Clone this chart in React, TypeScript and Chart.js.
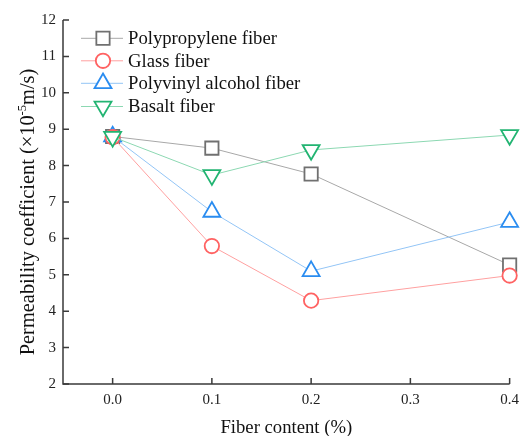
import React, { useEffect, useRef } from 'react';
import { Chart, registerables } from 'chart.js';
import { drawPoint } from 'chart.js/helpers';

Chart.register(...registerables);

// ---- Data ----
const fiberContent = [0, 0.1, 0.2, 0.4];
const xTicks = [0, 0.1, 0.2, 0.3, 0.4];
const yTicks = [2, 3, 4, 5, 6, 7, 8, 9, 10, 11, 12];

const seriesNames = ['Polypropylene fiber', 'Glass fiber', 'Polyvinyl alcohol fiber', 'Basalt fiber'];
const polypropylene = [8.8, 8.48, 7.77, 5.27];
const glass = [8.78, 5.79, 4.29, 4.98];
const pva = [8.8, 6.73, 5.1, 6.45];
const basalt = [8.79, 7.74, 8.43, 8.84];

const xTitle = 'Fiber content (%)';
const yTitleParts = ['Permeability coefficient (×10', '-5', 'm/s)'];

// ---- Styles ----
const FONT = '"Liberation Serif", "Times New Roman", serif';
const styles = [
  { marker: '#707070', line: '#a8a8a8', pointStyle: 'rect', radius: 9.4, rotation: 0 },
  { marker: '#ff6262', line: '#ffa0a0', pointStyle: 'circle', radius: 7.2, rotation: 0 },
  { marker: '#2a8cf0', line: '#93c5f6', pointStyle: 'triangle', radius: 9.8, rotation: 0 },
  { marker: '#22b472', line: '#8cd8b2', pointStyle: 'triangle', radius: 9.8, rotation: 180 },
];
const seriesValues = [polypropylene, glass, pva, basalt];
const drawOrder = [3, 1, 2, 0];

const axesPlugin = {
  id: 'inwardAxes',
  beforeDatasetsDraw(chart: any) {
    const { ctx, chartArea } = chart;
    const xs = chart.scales.x;
    const ys = chart.scales.y;
    ctx.save();
    ctx.strokeStyle = '#3a3a3a';
    ctx.lineWidth = 1.5;
    ctx.beginPath();
    ctx.moveTo(chartArea.left, chartArea.top);
    ctx.lineTo(chartArea.left, chartArea.bottom);
    ctx.lineTo(chartArea.right, chartArea.bottom);
    ctx.stroke();
    ctx.beginPath();
    for (const v of yTicks) {
      const y = ys.getPixelForValue(v);
      ctx.moveTo(chartArea.left, y);
      ctx.lineTo(chartArea.left + 6, y);
    }
    for (const v of xTicks) {
      const x = xs.getPixelForValue(v);
      ctx.moveTo(x, chartArea.bottom);
      ctx.lineTo(x, chartArea.bottom - 6);
    }
    ctx.stroke();
    ctx.restore();
  },
};

const yTitlePlugin = {
  id: 'yTitle',
  afterDraw(chart: any) {
    const { ctx } = chart;
    const mainFont = `20.4px ${FONT}`;
    const supFont = `12.5px ${FONT}`;
    ctx.save();
    ctx.font = mainFont;
    const w0 = ctx.measureText(yTitleParts[0]).width;
    const w2 = ctx.measureText(yTitleParts[2]).width;
    ctx.font = supFont;
    const w1 = ctx.measureText(yTitleParts[1]).width;
    const total = w0 + w1 + w2;
    ctx.translate(34, 212);
    ctx.rotate(-Math.PI / 2);
    ctx.fillStyle = '#111';
    ctx.textBaseline = 'alphabetic';
    ctx.textAlign = 'left';
    let x = -total / 2;
    ctx.font = mainFont;
    ctx.fillText(yTitleParts[0], x, 0);
    x += w0;
    ctx.font = supFont;
    ctx.fillText(yTitleParts[1], x, -8);
    x += w1;
    ctx.font = mainFont;
    ctx.fillText(yTitleParts[2], x, 0);
    ctx.restore();
  },
};

const legendPlugin = {
  id: 'customLegend',
  afterDraw(chart: any) {
    const { ctx } = chart;
    const rows = [38.3, 60.8, 83.3, 106.5];
    ctx.save();
    seriesNames.forEach((name, i) => {
      const st = styles[i];
      const y = rows[i];
      ctx.strokeStyle = st.line;
      ctx.lineWidth = 1;
      ctx.beginPath();
      ctx.moveTo(81, y);
      ctx.lineTo(123, y);
      ctx.stroke();
      ctx.fillStyle = '#ffffff';
      ctx.strokeStyle = st.marker;
      ctx.lineWidth = 1.8;
      drawPoint(ctx, { pointStyle: st.pointStyle as any, rotation: st.rotation, radius: st.radius, borderWidth: 1.8 }, 103, y);
      ctx.fillStyle = '#111';
      ctx.font = `18.7px ${FONT}`;
      ctx.textBaseline = 'middle';
      ctx.textAlign = 'left';
      ctx.fillText(name, 128, y + 1);
    });
    ctx.restore();
  },
};

export default function App() {
  const ref = useRef<HTMLCanvasElement>(null);

  useEffect(() => {
    if (!ref.current) return;
    const datasets = seriesNames.map((name, i) => ({
      label: name,
      data: fiberContent.map((x, j) => ({ x, y: seriesValues[i][j] })),
      borderColor: styles[i].line,
      borderWidth: 1,
      backgroundColor: '#ffffff',
      pointStyle: styles[i].pointStyle,
      pointRotation: styles[i].rotation,
      pointRadius: styles[i].radius,
      pointHoverRadius: styles[i].radius,
      pointBorderColor: styles[i].marker,
      pointBackgroundColor: '#ffffff',
      pointBorderWidth: 1.8,
      tension: 0,
      fill: false,
      clip: false,
      order: drawOrder[i],
    }));

    const chart = new Chart(ref.current, {
      type: 'line',
      data: { datasets },
      options: {
        animation: false,
        responsive: false,
        devicePixelRatio: 1,
        layout: { padding: { top: 20, right: 10, left: 0, bottom: 0 } },
        plugins: { legend: { display: false }, tooltip: { enabled: false } },
        scales: {
          x: {
            type: 'linear',
            min: -0.05,
            max: 0.4,
            afterBuildTicks: (s: any) => {
              s.ticks = xTicks.map((v) => ({ value: v }));
            },
            afterFit: (s: any) => {
              s.height = 52;
            },
            grid: { display: false, drawTicks: false },
            border: { display: false },
            ticks: {
              callback: (v: any) => Number(v).toFixed(1),
              font: { family: FONT, size: 15 },
              color: '#222',
              padding: 7,
              maxRotation: 0,
            },
            title: {
              display: true,
              text: xTitle,
              font: { family: FONT, size: 18.7, lineHeight: 1 },
              color: '#111',
              padding: { top: 0, bottom: -1 },
            },
          },
          y: {
            type: 'linear',
            min: 2,
            max: 12,
            afterBuildTicks: (s: any) => {
              s.ticks = yTicks.map((v) => ({ value: v }));
            },
            afterFit: (s: any) => {
              s.width = 63;
            },
            grid: { display: false, drawTicks: false },
            border: { display: false },
            ticks: {
              font: { family: FONT, size: 15 },
              color: '#222',
              padding: 7,
            },
            title: { display: false },
          },
        },
      },
      plugins: [axesPlugin, yTitlePlugin, legendPlugin],
    } as any);
    return () => chart.destroy();
  }, []);

  return (
    <div style={{ position: 'absolute', left: 0, top: 0, width: 526, height: 436, background: '#fff' }}>
      <canvas ref={ref} width={526} height={436} style={{ display: 'block' }} />
    </div>
  );
}
